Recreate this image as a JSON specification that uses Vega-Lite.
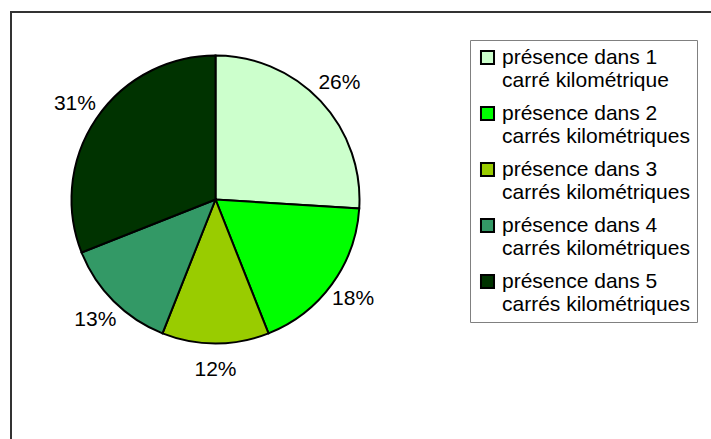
{
  "$schema": "https://vega.github.io/schema/vega-lite/v6.json",
  "width": 720,
  "height": 440,
  "autosize": {"type": "none"},
  "padding": {"left": 11, "top": 12, "right": 0, "bottom": 0},
  "background": "white",
  "config": {
    "view": {"stroke": "#333333", "strokeWidth": 2},
    "font": "Liberation Sans"
  },
  "data": {
    "values": [
      {"ordre": 1, "classe": "présence dans 1 carré kilométrique", "part": 0.26},
      {"ordre": 2, "classe": "présence dans 2 carrés kilométriques", "part": 0.18},
      {"ordre": 3, "classe": "présence dans 3 carrés kilométriques", "part": 0.12},
      {"ordre": 4, "classe": "présence dans 4 carrés kilométriques", "part": 0.13},
      {"ordre": 5, "classe": "présence dans 5 carrés kilométriques", "part": 0.31}
    ]
  },
  "encoding": {
    "theta": {"field": "part", "type": "quantitative", "stack": true},
    "order": {"field": "ordre", "type": "quantitative"},
    "x": {"value": 204.5},
    "y": {"value": 187.5}
  },
  "layer": [
    {
      "mark": {"type": "arc", "outerRadius": 144, "stroke": "black", "strokeWidth": 2},
      "encoding": {
        "color": {
          "field": "classe",
          "type": "nominal",
          "scale": {
            "domain": [
              "présence dans 1 carré kilométrique",
              "présence dans 2 carrés kilométriques",
              "présence dans 3 carrés kilométriques",
              "présence dans 4 carrés kilométriques",
              "présence dans 5 carrés kilométriques"
            ],
            "range": ["#CCFFCC", "#00FF00", "#99CC00", "#339966", "#003300"]
          },
          "legend": {
            "title": null,
            "orient": "none",
            "legendX": 459,
            "legendY": 28,
            "padding": 7,
            "strokeColor": "#808080",
            "fillColor": "white",
            "symbolType": "square",
            "symbolSize": 170,
            "symbolStrokeColor": "black",
            "symbolStrokeWidth": 2,
            "symbolOpacity": 1,
            "labelFont": "Liberation Sans",
            "labelFontSize": 21,
            "labelColor": "black",
            "labelOffset": 4,
            "labelLimit": 0,
            "rowPadding": 11,
            "labelExpr": "[slice(datum.label, 0, 15), slice(datum.label, 16)]",
            "encode": {"labels": {"update": {"lineHeight": {"value": 23.5}}}}
          }
        }
      }
    },
    {
      "mark": {"type": "text", "radius": 170, "font": "Liberation Sans", "fontSize": 21, "color": "black"},
      "encoding": {
        "text": {"field": "part", "type": "quantitative", "format": ".0%"}
      }
    }
  ]
}
